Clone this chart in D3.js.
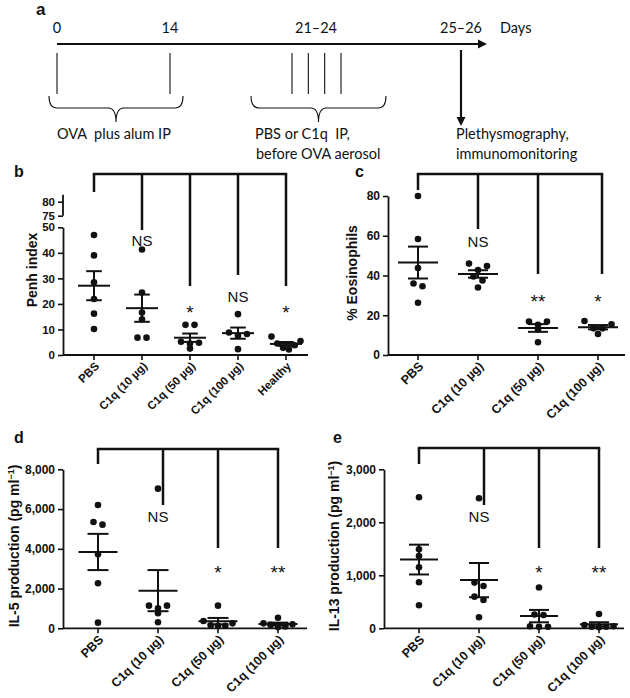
<!DOCTYPE html>
<html>
<head>
<meta charset="utf-8">
<script src="https://cdn.jsdelivr.net/npm/d3@7"></script>
<style>
body { margin: 0; background: #fff; }
svg { font-family: "Liberation Sans", Arial, Helvetica, sans-serif; }
</style>
</head>
<body>
<div id="chart"></div>
<script>
// ---- data ----
// a: protocol timeline
const timelineLabels = ["0", "14", "21–24", "25–26"];
const challengeDays = [21, 22, 23, 24];

// b: Penh index
const penhGroups = ["PBS", "C1q (10 µg)", "C1q (50 µg)", "C1q (100 µg)", "Healthy"];
const penhValues = [
  [47, 39, 28.5, 21.9, 16.2, 10.2],
  [41.3, 24.5, 16.6, 14, 6.8, 6.8],
  [11.8, 11.8, 5.2, 4.8, 4.5, 2.5],
  [16, 8.8, 8.2, 7.5, 2.3],
  [7.2, 5.5, 4.5, 3.8, 2.8, 2.2]
];
const penhSig = ["", "NS", "*", "NS", "*"];
const penhTicks = [0, 10, 20, 30, 40, 50];
const penhBreakTicks = [75, 80];

// c: % eosinophils
const doseGroups = ["PBS", "C1q (10 µg)", "C1q (50 µg)", "C1q (100 µg)"];
const eosValues = [
  [80, 58.4, 43.8, 36, 34.6, 26.3],
  [46, 44.8, 42.8, 39.5, 37.5, 34],
  [16.8, 16.8, 15.2, 12.8, 6.4],
  [17.1, 15.4, 13.4, 13.4, 10.6]
];
const eosSig = ["", "NS", "**", "*"];
const eosTicks = [0, 20, 40, 60, 80];

// d: IL-5
const il5Values = [
  [6205, 5350, 5215, 3723, 2264, 285],
  [7027, 1140, 1140, 1006, 755, 302],
  [1140, 370, 250, 150, 130, 120],
  [530, 250, 200, 170, 90, 60]
];
const il5Sig = ["", "NS", "*", "**"];
const il5Ticks = [0, 2000, 4000, 6000, 8000];

// e: IL-13
const il13Values = [
  [2472, 1491, 1365, 1151, 868, 434],
  [2453, 862, 799, 597, 535, 208],
  [770, 260, 250, 40, 30, 30],
  [270, 60, 40, 30, 30, 20]
];
const il13Sig = ["", "NS", "*", "**"];
const il13Ticks = [0, 1000, 2000, 3000];

// ---- drawing ----
const F = '"Liberation Sans", Arial, Helvetica, sans-serif';
const ink = "#111";
const W = 630, H = 698;

const svg = d3.select("#chart").append("svg")
  .attr("width", W).attr("height", H)
  .style("background", "#fff");

// panel a
const ga = svg.append("g").style("font-family", "Lato, sans-serif").style("font-size", "14.5px").attr("fill", ink);
ga.append("text").attr("x", 36).attr("y", 15)
  .style("font-family", F).style("font-weight", "bold").style("font-size", "17px").text("a");

const tx = d3.scaleOrdinal().domain(timelineLabels).range([57, 170, 316, 461]);
const cx = d3.scaleLinear().domain([21, 24]).range([292, 341]);
const lineY = 44;

ga.append("line").attr("x1", tx("0")).attr("x2", 478).attr("y1", lineY).attr("y2", lineY)
  .attr("stroke", ink).attr("stroke-width", 2.2);
ga.append("path").attr("d", `M478,${lineY - 4.5} L487,${lineY} L478,${lineY + 4.5} Z`).attr("fill", ink);

ga.selectAll("text.day").data(timelineLabels).enter().append("text")
  .attr("class", "day")
  .attr("x", d => tx(d)).attr("y", 33).attr("text-anchor", "middle").text(d => d);
ga.append("text").attr("x", 500).attr("y", 33).text("Days");

// sensitisation and challenge ticks
ga.selectAll("line.sens").data(["0", "14"]).enter().append("line")
  .attr("class", "sens")
  .attr("x1", d => tx(d)).attr("x2", d => tx(d)).attr("y1", 53).attr("y2", 94)
  .attr("stroke", ink).attr("stroke-width", 1.1);
ga.selectAll("line.chal").data(challengeDays).enter().append("line")
  .attr("class", "chal")
  .attr("x1", d => cx(d)).attr("x2", d => cx(d)).attr("y1", 53).attr("y2", 94)
  .attr("stroke", ink).attr("stroke-width", 1.1);

function brace(x0, x1, y0) {
  const xc = (x0 + x1) / 2, y1 = y0 + 12, y2 = y0 + 26, r = 8;
  return `M${x0},${y0} Q${x0},${y1} ${x0 + r},${y1} L${xc - r},${y1} Q${xc},${y1} ${xc},${y2}` +
         ` Q${xc},${y1} ${xc + r},${y1} L${x1 - r},${y1} Q${x1},${y1} ${x1},${y0}`;
}
ga.append("path").attr("d", brace(49, 183, 96)).attr("fill", "none").attr("stroke", ink).attr("stroke-width", 1.1);
ga.append("path").attr("d", brace(251, 386, 96)).attr("fill", "none").attr("stroke", ink).attr("stroke-width", 1.1);

// readout arrow
ga.append("line").attr("x1", tx("25–26")).attr("x2", tx("25–26")).attr("y1", 50).attr("y2", 117)
  .attr("stroke", ink).attr("stroke-width", 2.2);
ga.append("path").attr("d", `M${tx("25–26") - 4.5},117 L${tx("25–26")},126 L${tx("25–26") + 4.5},117 Z`).attr("fill", ink);

ga.append("text").attr("x", 57).attr("y", 139).attr("xml:space", "preserve").text("OVA  plus alum IP");
ga.append("text").attr("x", 255).attr("y", 139).attr("xml:space", "preserve").text("PBS or C1q  IP,");
ga.append("text").attr("x", 256).attr("y", 159).text("before OVA aerosol");
ga.append("text").attr("x", 456).attr("y", 139).text("Plethysmography,");
ga.append("text").attr("x", 456).attr("y", 159).text("immunomonitoring");

// dot layout: points at nearly the same height are spread side by side
function swarm(vals, y) {
  const pts = vals.map(v => ({ v: v, py: y(v) })).sort((a, b) => b.v - a.v);
  const clusters = [];
  let cur = [pts[0]];
  for (let i = 1; i < pts.length; i++) {
    if (pts[i].py - pts[i - 1].py < 4.5) cur.push(pts[i]);
    else { clusters.push(cur); cur = [pts[i]]; }
  }
  clusters.push(cur);
  clusters.forEach(c => {
    const n = c.length;
    const sp = n > 1 ? Math.min(9, 29 / (n - 1)) : 0;
    const slots = d3.range(n).map(i => (i - (n - 1) / 2) * sp);
    const order = [];
    let lo = 0, hi = n - 1;
    while (lo <= hi) { order.push(lo++); if (lo <= hi) order.push(hi--); }
    c.forEach((p, i) => p.dx = slots[order[i]]);
  });
  return pts;
}

function styleAxis(a, size) {
  a.style("font-family", F).style("font-size", size + "px").style("font-weight", "bold");
  a.selectAll(".tick line").attr("stroke", ink).attr("stroke-width", 1.6);
  a.selectAll(".tick text").attr("fill", ink);
}

function drawPanel(p) {
  const g = svg.append("g");
  const x = d3.scalePoint().domain(p.cats).range(p.xRange);
  const y = d3.scaleLinear().domain(p.domain).range([p.y0, p.yTop]);

  g.append("text").attr("x", p.labelX).attr("y", p.labelY)
    .style("font-family", F).style("font-weight", "bold").style("font-size", "16px").attr("fill", ink)
    .text(p.label);

  // y axis
  const ya = g.append("g").attr("transform", `translate(${p.left},0)`)
    .call(d3.axisLeft(y).tickValues(p.ticks).tickSize(5).tickSizeOuter(0).tickPadding(3)
      .tickFormat(d3.format(",")));
  styleAxis(ya, p.tickFont);
  ya.select(".domain").attr("stroke", ink).attr("stroke-width", 1.8);

  if (p.breakTicks) {
    const yb = d3.scaleLinear().domain([75, 80]).range([215.7, 201.7]);
    const yba = g.append("g").attr("transform", `translate(${p.left},0)`)
      .call(d3.axisLeft(yb).tickValues(p.breakTicks).tickSize(5).tickSizeOuter(0).tickPadding(3)
        .tickFormat(d3.format("d")));
    styleAxis(yba, p.tickFont);
    yba.select(".domain").remove();
    g.append("line").attr("x1", p.left).attr("x2", p.left)
      .attr("y1", yb(82.5)).attr("y2", yb(75))
      .attr("stroke", ink).attr("stroke-width", 1.8);
  }

  // x axis
  g.append("line").attr("x1", p.left).attr("x2", p.right).attr("y1", p.y0).attr("y2", p.y0)
    .attr("stroke", ink).attr("stroke-width", 1.8);
  g.selectAll("line.xt").data(p.cats).enter().append("line")
    .attr("x1", d => x(d)).attr("x2", d => x(d)).attr("y1", p.y0).attr("y2", p.y0 + 5)
    .attr("stroke", ink).attr("stroke-width", 1.6);
  g.selectAll("text.xl").data(p.cats).enter().append("text")
    .attr("transform", d => `translate(${x(d) + 3},${p.y0 + 9}) rotate(-45)`)
    .attr("dy", "0.35em").attr("text-anchor", "end")
    .style("font-family", F).style("font-weight", "bold").style("font-size", p.catFont + "px").attr("fill", ink)
    .text(d => d);

  // y title
  const t = g.append("text")
    .attr("transform", `translate(${p.titleX},${p.titleY}) rotate(-90)`)
    .attr("text-anchor", "middle").attr("dy", "0.35em")
    .style("font-family", F).style("font-weight", "bold").style("font-size", "14px").attr("fill", ink);
  if (p.unit) {
    t.append("tspan").text(p.title + " (pg ml");
    t.append("tspan").style("font-size", "9px").attr("dy", -5).text("−1");
    t.append("tspan").attr("dy", 5).text(")");
  } else {
    t.text(p.title);
  }

  // dots, mean and SEM
  p.values.forEach((vals, i) => {
    const cxv = x(p.cats[i]);
    const pts = swarm(vals, y);
    g.selectAll(null).data(pts).enter().append("circle")
      .attr("cx", d => cxv + d.dx).attr("cy", d => d.py).attr("r", 3.3).attr("fill", ink);
    const m = d3.mean(vals);
    const se = d3.deviation(vals) / Math.sqrt(vals.length);
    g.append("line").attr("x1", cxv - p.meanHalf).attr("x2", cxv + p.meanHalf)
      .attr("y1", y(m)).attr("y2", y(m)).attr("stroke", ink).attr("stroke-width", 2);
    g.append("line").attr("x1", cxv).attr("x2", cxv)
      .attr("y1", y(m - se)).attr("y2", y(m + se)).attr("stroke", ink).attr("stroke-width", 2);
    [m - se, m + se].forEach(v => {
      g.append("line").attr("x1", cxv - p.semHalf).attr("x2", cxv + p.semHalf)
        .attr("y1", y(v)).attr("y2", y(v)).attr("stroke", ink).attr("stroke-width", 2);
    });
  });

  // comparison bracket
  const bx = p.cats.map((c, i) => x(c) + (p.dropNudge[i] || 0));
  g.append("line").attr("x1", bx[0] - 1.2).attr("x2", bx[bx.length - 1] + 1.2)
    .attr("y1", p.bracketY).attr("y2", p.bracketY).attr("stroke", ink).attr("stroke-width", 2.5);
  p.cats.forEach((c, i) => {
    g.append("line").attr("x1", bx[i]).attr("x2", bx[i]).attr("y1", p.bracketY).attr("y2", p.drops[i])
      .attr("stroke", ink).attr("stroke-width", 2.5);
    if (p.sig[i]) {
      const star = p.sig[i].startsWith("*");
      g.append("text").attr("x", x(c)).attr("y", p.sigY[i] + (star ? 4 : 0)).attr("text-anchor", "middle")
        .style("font-family", F).style("font-size", (star ? 19 : 15) + "px").attr("fill", ink)
        .text(p.sig[i]);
    }
  });
}

drawPanel({
  label: "b", labelX: 14, labelY: 177,
  cats: penhGroups, values: penhValues, sig: penhSig,
  xRange: [94, 286], left: 63, right: 308,
  y0: 355, yTop: 227.3, domain: [0, 50], ticks: penhTicks, breakTicks: penhBreakTicks,
  tickFont: 11.5, catFont: 11.5,
  title: "Penh index", titleX: 32, titleY: 270,
  meanHalf: 16, semHalf: 7.8,
  bracketY: 174, drops: [192, 230, 286, 275, 286], dropNudge: [0, 0, 0, 0, 0],
  sigY: [0, 245.5, 315, 301.5, 315]
});

drawPanel({
  label: "c", labelX: 355, labelY: 177,
  cats: doseGroups, values: eosValues, sig: eosSig,
  xRange: [418, 598], left: 388, right: 625,
  y0: 355, yTop: 196, domain: [0, 80], ticks: eosTicks,
  tickFont: 12, catFont: 12.5,
  title: "% Eosinophils", titleX: 352, titleY: 273,
  meanHalf: 20, semHalf: 10,
  bracketY: 174, drops: [190, 229, 274, 274], dropNudge: [0, 0, 0, 4],
  sigY: [0, 247, 303.5, 303.5]
});

drawPanel({
  label: "d", labelX: 14, labelY: 443,
  cats: doseGroups, values: il5Values, sig: il5Sig,
  xRange: [98, 278], left: 63, right: 307,
  y0: 628.3, yTop: 469.3, domain: [0, 8000], ticks: il5Ticks,
  tickFont: 12, catFont: 12.5,
  title: "IL-5 production", unit: true, titleX: 14, titleY: 546,
  meanHalf: 19.5, semHalf: 10.5,
  bracketY: 449, drops: [464, 505, 548, 548], dropNudge: [0, 5, 0, 0],
  sigY: [0, 522, 575, 575]
});

drawPanel({
  label: "e", labelX: 333, labelY: 443,
  cats: doseGroups, values: il13Values, sig: il13Sig,
  xRange: [419, 599], left: 384, right: 624,
  y0: 628.3, yTop: 469.3, domain: [0, 3000], ticks: il13Ticks,
  tickFont: 12, catFont: 12.5,
  title: "IL-13 production", unit: true, titleX: 334, titleY: 546,
  meanHalf: 19, semHalf: 10,
  bracketY: 448, drops: [464, 505, 548, 548], dropNudge: [0, 5, 0, 0],
  sigY: [0, 522, 575, 575]
});
</script>
</body>
</html>
